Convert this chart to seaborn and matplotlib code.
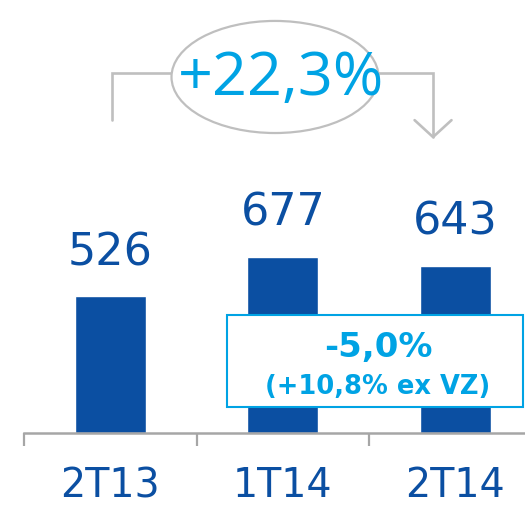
import matplotlib
matplotlib.use("Agg")
import matplotlib.pyplot as plt
from matplotlib.patches import Ellipse, Rectangle
import seaborn as sns
import pandas as pd

# Quarterly values
periods = ["2T13", "1T14", "2T14"]
values = [526, 677, 643]
growth_label = "+22,3%"
qoq_label = "-5,0%"
qoq_note = "(+10,8% ex VZ)"

df = pd.DataFrame({"period": periods, "value": values})

bar_blue = "#0B4FA2"
light_blue = "#00A3E4"
line_grey = "#BFBFBF"
axis_grey = "#A6A6A6"

sns.set_theme(style="white")
plt.rcParams["font.family"] = ["DejaVu Sans"]

fig = plt.figure(figsize=(5.25, 5.05), dpi=100)
ax = fig.add_axes([24 / 525, 72 / 505, 501 / 525, 433 / 505])

sns.barplot(data=df, x="period", y="value", color=bar_blue, width=0.41,
            saturation=1, ax=ax, zorder=2)

ax.set_xlim(-0.5, 2.404)
ax.set_ylim(0, 1665)

for s in ["left", "top", "right"]:
    ax.spines[s].set_visible(False)
ax.spines["bottom"].set_color(axis_grey)
ax.spines["bottom"].set_linewidth(1.8)
ax.set_yticks([])
ax.set_xlabel("")
ax.set_ylabel("")

# Category labels centred under bars, tick marks between categories
ax.set_xticks(range(len(periods)))
ax.set_xticklabels(periods, fontsize=28.5, color=bar_blue)
ax.tick_params(axis="x", which="both", bottom=True)
ax.tick_params(axis="x", which="major", length=0, pad=24)
ax.set_xticks([-0.5, 0.5, 1.5], minor=True)
ax.tick_params(axis="x", which="minor", length=9, width=1.6, color=axis_grey,
               direction="out")

# Value labels above the bars
for i, v in enumerate(values):
    ax.text(i, v + 120, f"{v}", ha="center", va="baseline",
            fontsize=32, color=bar_blue)

# Growth bracket from the first to the last period
lx, rx = 0.01, 1.871
ax.plot([lx, lx, rx, rx], [1204, 1385, 1385, 1138], color=line_grey,
        lw=1.9, solid_joinstyle="miter", clip_on=False, zorder=1)
ax.plot([rx - 0.107, rx, rx + 0.107], [1203, 1138, 1203], color=line_grey,
        lw=1.9, clip_on=False, zorder=1)
ax.add_patch(Ellipse((0.955, 1369), 1.2, 431, facecolor="white",
                     edgecolor=line_grey, lw=1.6, zorder=3, clip_on=False))
ax.text(0.99, 1362, growth_label, ha="center", va="center", fontsize=44,
        color=light_blue, family=["Open Sans", "DejaVu Sans"], zorder=4)

# Quarter-on-quarter change box
ax.add_patch(Rectangle((0.677, 100), 1.717, 354, facecolor="white",
                       edgecolor=light_blue, lw=1.5, zorder=5, clip_on=False))
ax.text(1.552, 327, qoq_label, ha="center", va="center", fontsize=24.5,
        fontweight="bold", color=light_blue, zorder=6)
ax.text(1.552, 177, qoq_note, ha="center", va="center", fontsize=18.5,
        fontweight="bold", color=light_blue, zorder=6)

fig.savefig("out.png", dpi=100)
